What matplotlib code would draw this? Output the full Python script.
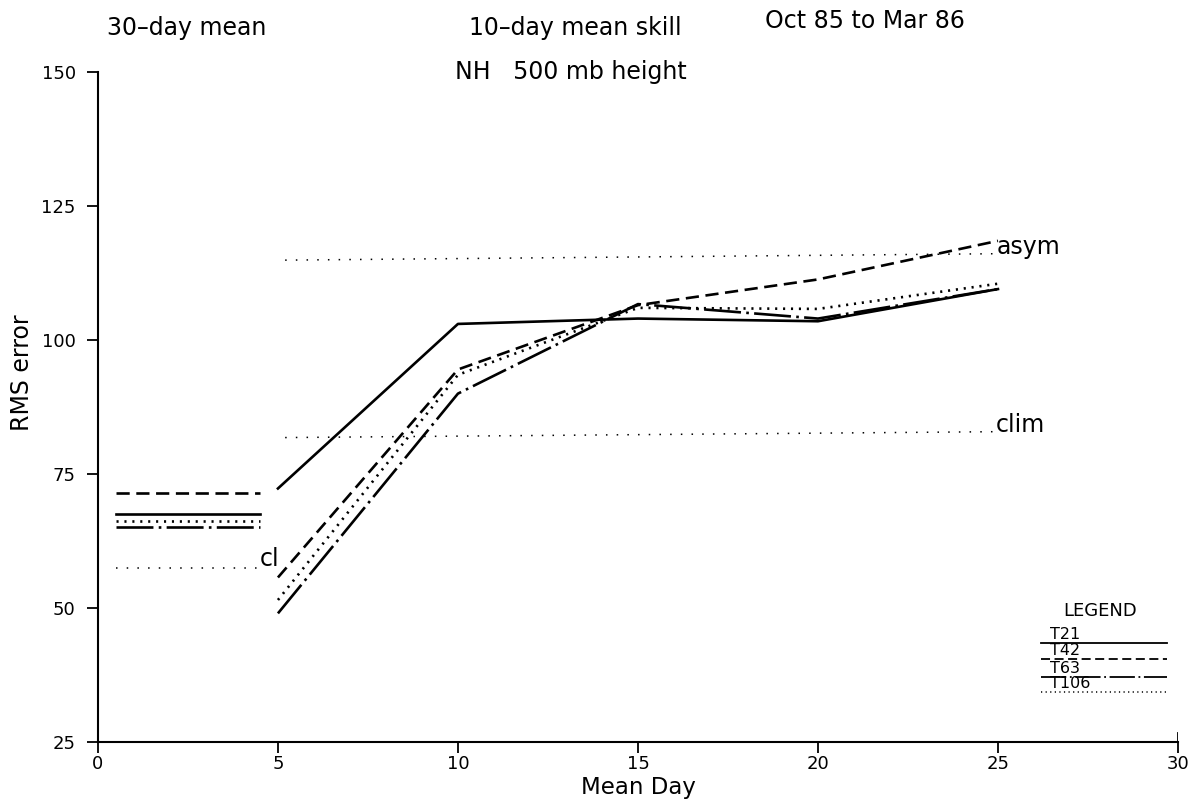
import matplotlib.pyplot as plt
import numpy as np

# 30-day mean (drawn as flat segments over days 0.5-4.5)
mean30_x = [0.5, 4.5]
mean30 = {"T21": 67.6, "T42": 71.5, "T63": 65.2, "T106": 66.3}
clim30 = 57.4

# 10-day mean skill
days = [5, 10, 15, 20, 25]
t21 = [72.3, 103.0, 104.0, 103.5, 109.5]
t42 = [55.7, 94.5, 106.5, 111.3, 118.5]
t63 = [49.0, 90.0, 106.7, 104.0, 109.5]
t106 = [51.5, 93.5, 106.0, 105.8, 110.5]

ref_x = [5.2, 25]
asym = [114.9, 116.1]
clim = [81.8, 82.9]

styles = {
    "T21": dict(ls="-"),
    "T42": dict(ls=(0, (5, 2.5))),
    "T63": dict(ls=(0, (14, 2, 1, 2))),
    "T106": dict(ls=(0, (0.8, 2.2))),
}
series = {"T21": t21, "T42": t42, "T63": t63, "T106": t106}
dotted = (0, (1, 6))

plt.rcParams["font.family"] = "DejaVu Sans"
fig = plt.figure(figsize=(11.93, 7.99), dpi=100)
ax = fig.add_axes([0.0821, 0.0713, 0.9053, 0.8386])

for name in ["T21", "T42", "T63", "T106"]:
    ax.plot(mean30_x, [mean30[name]] * 2, color="black", lw=1.9, **styles[name])
    ax.plot(days, series[name], color="black", lw=1.9, **styles[name])

ax.plot(mean30_x, [clim30] * 2, color="black", lw=1.1, ls=dotted)
ax.text(4.5, clim30 + 1.8, "cl", fontsize=17, va="center", ha="left")
ax.plot(ref_x, asym, color="black", lw=1.1, ls=dotted)
ax.text(24.95, asym[1] + 1.3, "asym", fontsize=17, va="center", ha="left")
ax.plot(ref_x, clim, color="black", lw=1.1, ls=dotted)
ax.text(24.95, clim[1] + 1.2, "clim", fontsize=17, va="center", ha="left")

# hand-drawn style legend box in the lower right
ax.text(27.85, 49.5, "LEGEND", fontsize=13, ha="center", va="center")
leg_y = [43.5, 40.5, 37.2, 34.3]
for name, ly in zip(["T21", "T42", "T63", "T106"], leg_y):
    lw = 1.3 if name != "T106" else 1.1
    ax.plot([26.2, 29.7], [ly, ly], color="black", lw=lw, clip_on=False, **styles[name])
    ax.text(26.45, ly + 0.15, name, fontsize=11.5, ha="left", va="bottom")

ax.set_xlim(0, 30)
ax.set_ylim(25, 150)
ax.set_xticks(np.arange(0, 31, 5))
ax.set_yticks(np.arange(25, 151, 25))
ax.tick_params(direction="out", length=8, width=1.3, labelsize=13)
ax.tick_params(axis="y", pad=8)
ax.tick_params(axis="x", pad=1)
ax.spines["top"].set_visible(False)
ax.spines["right"].set_visible(False)
for s in ["left", "bottom"]:
    ax.spines[s].set_linewidth(1.5)
ax.axvline(30, ymin=0, ymax=0.013, color="black", lw=1.3)

ax.set_xlabel("Mean Day", fontsize=16.5, va="top")
ax.xaxis.set_label_coords(0.5, -0.051)
ax.set_ylabel("RMS error", fontsize=17, va="center")
ax.yaxis.set_label_coords(-0.070, 0.551)

fig.text(0.09, 0.965, "30\u2013day mean", fontsize=17, va="center")
fig.text(0.393, 0.965, "10\u2013day mean skill", fontsize=17, va="center")
fig.text(0.641, 0.974, "Oct 85 to Mar 86", fontsize=17, va="center")
fig.text(0.381, 0.91, "NH   500 mb height", fontsize=17, va="center")

fig.savefig("out.png", dpi=100)
